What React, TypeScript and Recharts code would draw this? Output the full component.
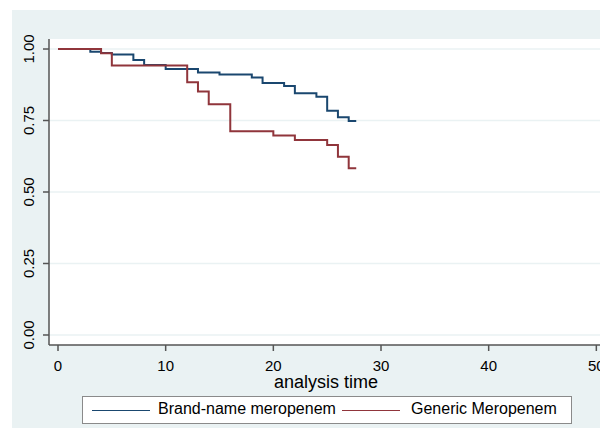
import React from 'react';
import { LineChart, Line, XAxis, YAxis, CartesianGrid, Legend, Label } from 'recharts';

const brandTimes = [0, 3, 4, 5, 7, 8, 10, 13, 15, 18, 19, 21, 22, 24, 25, 26, 27, 27.7];
const brandSurv = [1.0, 0.99, 0.986, 0.981, 0.962, 0.944, 0.93, 0.918, 0.911, 0.9, 0.881, 0.871, 0.845, 0.833, 0.784, 0.761, 0.748, 0.748];
const genericTimes = [0, 4, 5, 12, 13, 14, 16, 20, 22, 25, 26, 27, 27.7];
const genericSurv = [1.0, 0.985, 0.942, 0.884, 0.851, 0.807, 0.712, 0.698, 0.682, 0.664, 0.623, 0.583, 0.583];
const xTicks = [0, 10, 20, 30, 40, 50];
const yTicks = [0, 0.25, 0.5, 0.75, 1];
const seriesNames = ['Brand-name meropenem', 'Generic Meropenem'];
const seriesColors = ['#1a476f', '#90353b'];

const brandData = brandTimes.map((t, i) => ({ t, s: brandSurv[i] }));
const genericData = genericTimes.map((t, i) => ({ t, s: genericSurv[i] }));

const FONT = '"Liberation Sans", Arial, Helvetica, sans-serif';

const YTick = (props: any) => {
  const { x, y, payload } = props;
  const tx = x - 7;
  return (
    <text
      x={tx}
      y={y}
      transform={`rotate(-90, ${tx}, ${y})`}
      textAnchor="middle"
      fontSize={15}
      fontFamily={FONT}
      fill="#000"
    >
      {payload.value.toFixed(2)}
    </text>
  );
};

const XTick = (props: any) => {
  const { x, y, payload } = props;
  return (
    <text x={x} y={y} dy="0.71em" textAnchor="middle" fontSize={15} fontFamily={FONT} fill="#000">
      {payload.value}
    </text>
  );
};

const XLabel = (props: any) => {
  const vb = props.viewBox || {};
  return (
    <text
      x={vb.x + vb.width / 2 + 1.5}
      y={vb.y + 43}
      textAnchor="middle"
      fontSize={18}
      fontFamily={FONT}
      fill="#000"
    >
      analysis time
    </text>
  );
};

const LegendContent = () => {
  const lineLefts = [9, 259];
  const textLefts = [75, 328];
  return (
    <div
      style={{
        position: 'relative',
        width: 490,
        height: 28,
        boxSizing: 'border-box',
        border: '1px solid #8a8a8a',
        background: '#fff',
        fontFamily: FONT,
        fontSize: 16,
        color: '#000',
      }}
    >
      {seriesNames.map((name, i) => (
        <React.Fragment key={i}>
          <div
            style={{
              position: 'absolute',
              left: lineLefts[i],
              top: 13,
              width: 58,
              height: 0,
              borderTop: `1.5px solid ${seriesColors[i]}`,
            }}
          />
          <div
            style={{
              position: 'absolute',
              left: textLefts[i],
              top: 3,
              lineHeight: '18px',
              whiteSpace: 'nowrap',
            }}
          >
            {name}
          </div>
        </React.Fragment>
      ))}
    </div>
  );
};

export default function App() {
  return (
    <div style={{ position: 'absolute', left: 0, top: 0, width: 600, height: 430 }}>
      <div
        style={{
          position: 'absolute',
          left: 12,
          top: 10,
          width: 588,
          height: 418,
          background: '#EAF2F3',
        }}
      />
      <div style={{ position: 'absolute', left: 0, top: 0 }}>
        <LineChart width={600} height={430} margin={{ top: 39, right: 0, bottom: 0, left: 0 }}>
          <CartesianGrid vertical={false} horizontal={true} stroke="#EAF2F3" strokeWidth={1.5} fill="#ffffff" horizontalValues={yTicks} />
          <XAxis
            type="number"
            dataKey="t"
            domain={[-0.836, 50.34]}
            allowDataOverflow
            ticks={xTicks}
            tick={<XTick />}
            tickSize={6}
            tickMargin={9}
            height={57}
            stroke="#555"
            strokeWidth={1.5}
            interval={0}
          >
            <Label content={<XLabel />} />
          </XAxis>
          <YAxis
            type="number"
            domain={[-0.035, 1.035]}
            allowDataOverflow
            ticks={yTicks}
            tick={<YTick />}
            tickSize={6}
            tickMargin={2}
            width={49}
            stroke="#555"
            strokeWidth={1.5}
            interval={0}
          />
          <Legend
            verticalAlign="bottom"
            content={<LegendContent />}
            wrapperStyle={{ left: 82, top: 396, width: 490, height: 28 }}
          />
          <Line
            data={brandData}
            dataKey="s"
            name={seriesNames[0]}
            type="stepAfter"
            stroke={seriesColors[0]}
            strokeWidth={2}
            dot={false}
            activeDot={false}
            isAnimationActive={false}
          />
          <Line
            data={genericData}
            dataKey="s"
            name={seriesNames[1]}
            type="stepAfter"
            stroke={seriesColors[1]}
            strokeWidth={2}
            dot={false}
            activeDot={false}
            isAnimationActive={false}
          />
        </LineChart>
      </div>
    </div>
  );
}
